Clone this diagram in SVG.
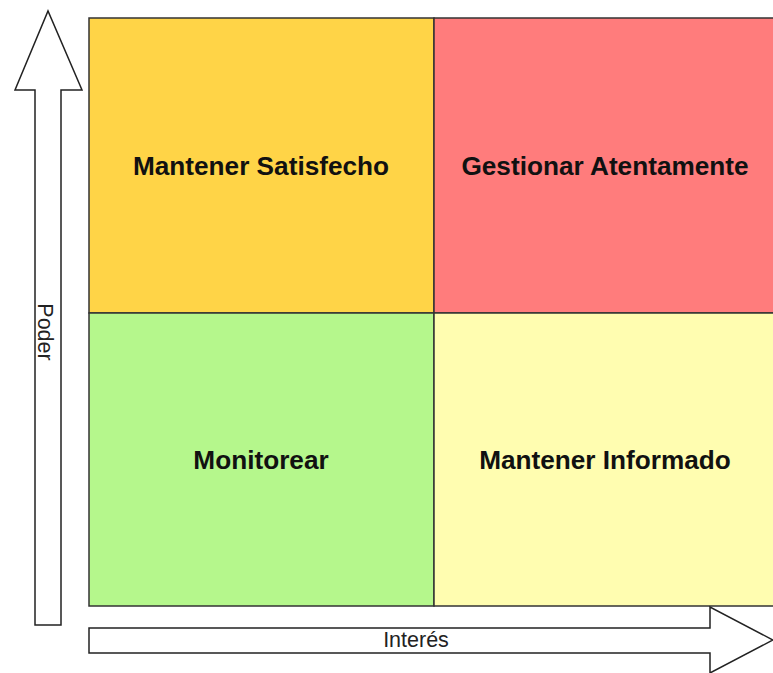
<svg xmlns="http://www.w3.org/2000/svg" width="773" height="673" viewBox="0 0 773 673">
<style>
.q{stroke:#333;stroke-width:1.5}
.lbl{font-family:"Liberation Sans",Arial,sans-serif;font-weight:bold;font-size:26.2px;fill:#111;text-anchor:middle}
.ax{fill:#fff;stroke:#222;stroke-width:1.5;stroke-linejoin:miter}
.axt{font-family:"Liberation Sans",Arial,sans-serif;font-size:21.5px;fill:#222;text-anchor:middle}
</style>
<rect width="773" height="673" fill="#fff"/>
<g id="q-satisfecho">
<rect class="q" x="89" y="18" width="345" height="295" fill="#FFD447"/>
<text class="lbl" x="261" y="175">Mantener Satisfecho</text>
</g>
<g id="q-gestionar">
<rect class="q" x="434" y="18" width="345" height="295" fill="#FF7C7C"/>
<text class="lbl" x="605" y="175">Gestionar Atentamente</text>
</g>
<g id="q-monitorear">
<rect class="q" x="89" y="313" width="345" height="293" fill="#B5F78C"/>
<text class="lbl" x="261" y="469">Monitorear</text>
</g>
<g id="q-informado">
<rect class="q" x="434" y="313" width="345" height="293" fill="#FFFDB0"/>
<text class="lbl" x="605" y="469">Mantener Informado</text>
</g>
<g id="axes">
<g id="axis-poder">
<path class="ax" d="M35,625 L35,90 L15,90 L48,11 L82,90 L61,90 L61,625 Z"/>
<text class="axt" transform="translate(38,332) rotate(90)">Poder</text>
</g>
<g id="axis-interes">
<path class="ax" d="M89,628 L710,628 L710,607 L773,640 L710,673 L710,653 L89,653 Z"/>
<text class="axt" x="416" y="647">Interés</text>
</g>
</g>
</svg>
